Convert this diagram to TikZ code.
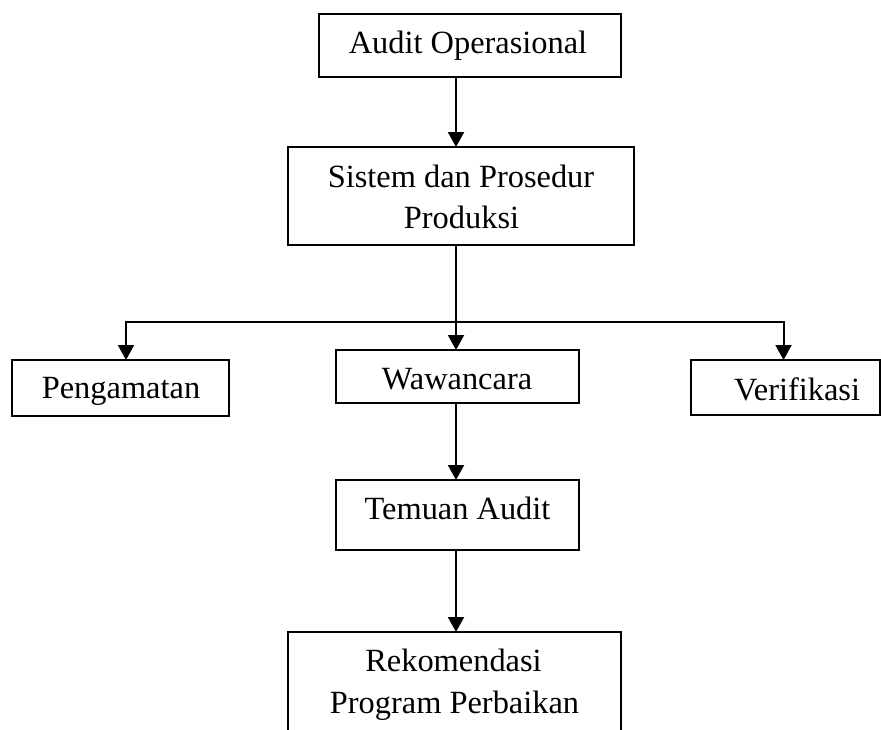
\documentclass[tikz,border=0pt]{standalone}
\usepackage{fontspec}
\setmainfont{Liberation Serif}
\usetikzlibrary{arrows.meta}
\begin{document}
\begin{tikzpicture}[x=0.5pt,y=-0.5pt,
  boxshape/.style={draw=black,line width=1pt,rectangle,inner sep=0pt,outer sep=0pt},
  txt/.style={inner sep=0pt,anchor=base,font=\fontsize{16.2}{21}\selectfont},
  conn/.style={draw=black,line width=1pt},
  arr/.style={conn,-{Triangle[width=8pt,length=7.5pt]}}]
\useasboundingbox[fill=white] (0,0) rectangle (881,729);
% boxes
\node[boxshape,minimum width=151.25pt,minimum height=31.5pt] (b1) at (469.75,45.5) {};
\node[boxshape,minimum width=173pt,minimum height=49pt] (b2) at (461,196) {};
\node[boxshape,minimum width=108.5pt,minimum height=27.75pt] (p) at (120.5,387.75) {};
\node[boxshape,minimum width=121.75pt,minimum height=26.5pt] (w) at (457.25,376.5) {};
\node[boxshape,minimum width=94.25pt,minimum height=27.25pt] (v) at (785.25,387.25) {};
\node[boxshape,minimum width=121.75pt,minimum height=35pt] (t) at (457.25,515) {};
\node[boxshape,minimum width=166.5pt,minimum height=68pt] (r) at (454.5,700) {};
% texts
\node[txt] (t1) at (468,53) {Audit Operasional};
\node[txt] (t2a) at (461,187) {Sistem dan Prosedur};
\node[txt] (t2b) at (461.5,228) {Produksi};
\node[txt] (tp) at (121,398) {Pengamatan};
\node[txt] (tw) at (457,389) {Wawancara};
\node[txt] (tv) at (797,400) {Verifikasi};
\node[txt] (tt) at (457.5,519) {Temuan Audit};
\node[txt] (tr1) at (453.5,671) {Rekomendasi};
\node[txt] (tr2) at (454.5,713) {Program Perbaikan};
% connector coordinates
\coordinate (vx) at (456,0);
\coordinate (junc) at (456,322);
\coordinate (hl) at (126,322);
\coordinate (hr) at (783.5,322);
% connectors
\draw[arr] (b1.south -| vx) -- (b2.north -| vx);
\draw[conn] (b2.south -| vx) -- (junc);
\draw[arr] (junc) -- (hl) -- (p.north -| hl);
\draw[arr] (junc) -- (hr) -- (v.north -| hr);
\draw[arr] (junc) -- (w.north -| junc);
\draw[arr] (w.south -| vx) -- (t.north -| vx);
\draw[arr] (t.south -| vx) -- (r.north -| vx);
\end{tikzpicture}
\end{document}
